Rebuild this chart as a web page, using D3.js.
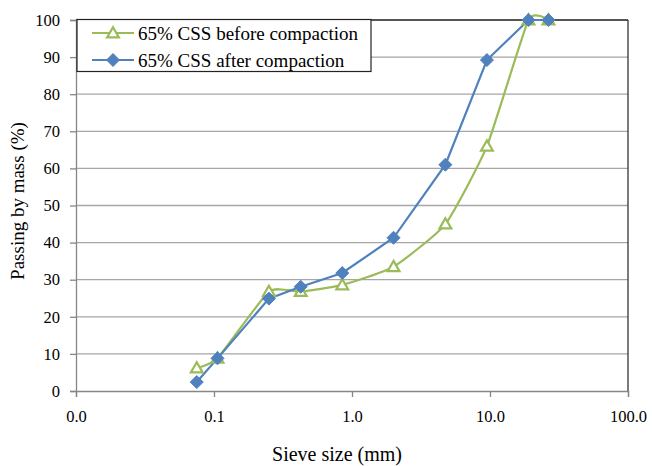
<!DOCTYPE html>
<html><head><meta charset="utf-8">
<script src="https://cdn.jsdelivr.net/npm/d3@7"></script>
<style>body{margin:0;background:#fff}svg{display:block}svg text{font-family:"Times New Roman","Liberation Serif",Tinos,"DejaVu Serif",serif !important}</style>
</head><body><svg id="c" width="652" height="466"></svg>
<script>
const sieveSizes = [0.075, 0.106, 0.25, 0.425, 0.85, 2.0, 4.75, 9.5, 19, 26.5];
const beforeValues = [6.2, 8.8, 26.8, 26.8, 28.6, 33.5, 45, 66, 100, 100];
const afterValues = [2.4, 8.8, 24.9, 28.1, 31.8, 41.3, 61, 89.2, 100, 100];
const xTicks = [0.01, 0.1, 1, 10, 100];
const xTickLabels = ["0.0", "0.1", "1.0", "10.0", "100.0"];
const yTicks = [0,10,20,30,40,50,60,70,80,90,100];
const seriesNames = ["65% CSS before compaction", "65% CSS after compaction"];

const svg = d3.select("#c");
const L=76, R=628, T=20, B=391;
const x = d3.scaleLog().domain([0.01,100]).range([L,R]);
const y = d3.scaleLinear().domain([0,100]).range([B,T]);
const green="#9BBB59", blue="#4F81BD";

svg.append("g").selectAll("line").data(yTicks.filter(d=>d>0)).join("line")
  .attr("x1",L).attr("x2",R).attr("y1",d=>y(d)).attr("y2",d=>y(d))
  .attr("stroke","#a6a6a6").attr("stroke-width",1.3);
svg.append("line").attr("x1",L).attr("x2",R).attr("y1",T).attr("y2",T).attr("stroke","#333").attr("stroke-width",1.3);
svg.append("line").attr("x1",R).attr("x2",R).attr("y1",T).attr("y2",B).attr("stroke","#333").attr("stroke-width",1.3);

const yAxis = svg.append("g").attr("transform",`translate(${L},0)`)
  .call(d3.axisLeft(y).tickValues(yTicks).tickSize(6).tickPadding(10).tickFormat(d3.format("d")));
yAxis.attr("font-size",16.5);
yAxis.select(".domain").attr("stroke","#868686").attr("stroke-width",1.3);
yAxis.selectAll(".tick line").attr("stroke","#868686").attr("stroke-width",1.3);
yAxis.selectAll("text").attr("fill","#000");

const xAxis = svg.append("g").attr("transform",`translate(0,${B})`)
  .call(d3.axisBottom(x).tickValues(xTicks).tickSize(6).tickPadding(13).tickFormat((d,i)=>xTickLabels[i]));
xAxis.attr("font-size",16.5);
xAxis.select(".domain").attr("stroke","#868686").attr("stroke-width",1.3);
xAxis.selectAll(".tick line").attr("stroke","#868686").attr("stroke-width",1.3);
xAxis.selectAll("text").attr("fill","#000");

svg.append("text").attr("x",337).attr("y",461).attr("text-anchor","middle")
  .attr("font-size",20).text("Sieve size (mm)");
svg.append("text").attr("transform",`translate(24,201) rotate(-90)`).attr("text-anchor","middle")
  .attr("font-size",19).text("Passing by mass (%)");

const before = sieveSizes.map((s,i)=>[s,beforeValues[i]]);
const after = sieveSizes.map((s,i)=>[s,afterValues[i]]);

svg.append("path").datum(before).attr("fill","none").attr("stroke",green).attr("stroke-width",2.2)
  .attr("d",d3.line().x(d=>x(d[0])).y(d=>y(d[1])).curve(d3.curveCardinal.tension(0.5)));
svg.append("path").datum(after).attr("fill","none").attr("stroke",blue).attr("stroke-width",2.2)
  .attr("d",d3.line().x(d=>x(d[0])).y(d=>y(d[1])));

const tri = d3.symbol().type(d3.symbolTriangle).size(60);
const dia = "M0,-6.5L6.5,0L0,6.5L-6.5,0Z";

svg.append("g").selectAll("path").data(before).join("path")
  .attr("transform",d=>`translate(${x(d[0])},${y(d[1])+1})`).attr("d",tri())
  .attr("fill","#fff").attr("stroke",green).attr("stroke-width",2.2);
svg.append("g").selectAll("path").data(after).join("path")
  .attr("transform",d=>`translate(${x(d[0])},${y(d[1])})`).attr("d",dia)
  .attr("fill",blue).attr("stroke",blue).attr("stroke-width",1);

const lg = svg.append("g");
lg.append("rect").attr("x",77).attr("y",19.5).attr("width",294).attr("height",52)
  .attr("fill","#fff").attr("stroke","#222").attr("stroke-width",1.2);
[[green,0],[blue,1]].forEach(([c,i])=>{
  const yy = 33 + i*27;
  lg.append("line").attr("x1",92).attr("x2",134).attr("y1",yy).attr("y2",yy).attr("stroke",c).attr("stroke-width",2.2);
  if(i===0) lg.append("path").attr("transform",`translate(113,${yy+1})`).attr("d",tri()).attr("fill","#fff").attr("stroke",c).attr("stroke-width",2.2);
  else lg.append("path").attr("transform",`translate(113,${yy})`).attr("d",dia).attr("fill",c).attr("stroke",c);
  lg.append("text").attr("x",138).attr("y",yy).attr("dy","0.35em").attr("font-size",19).text(seriesNames[i]);
});
</script></body></html>
